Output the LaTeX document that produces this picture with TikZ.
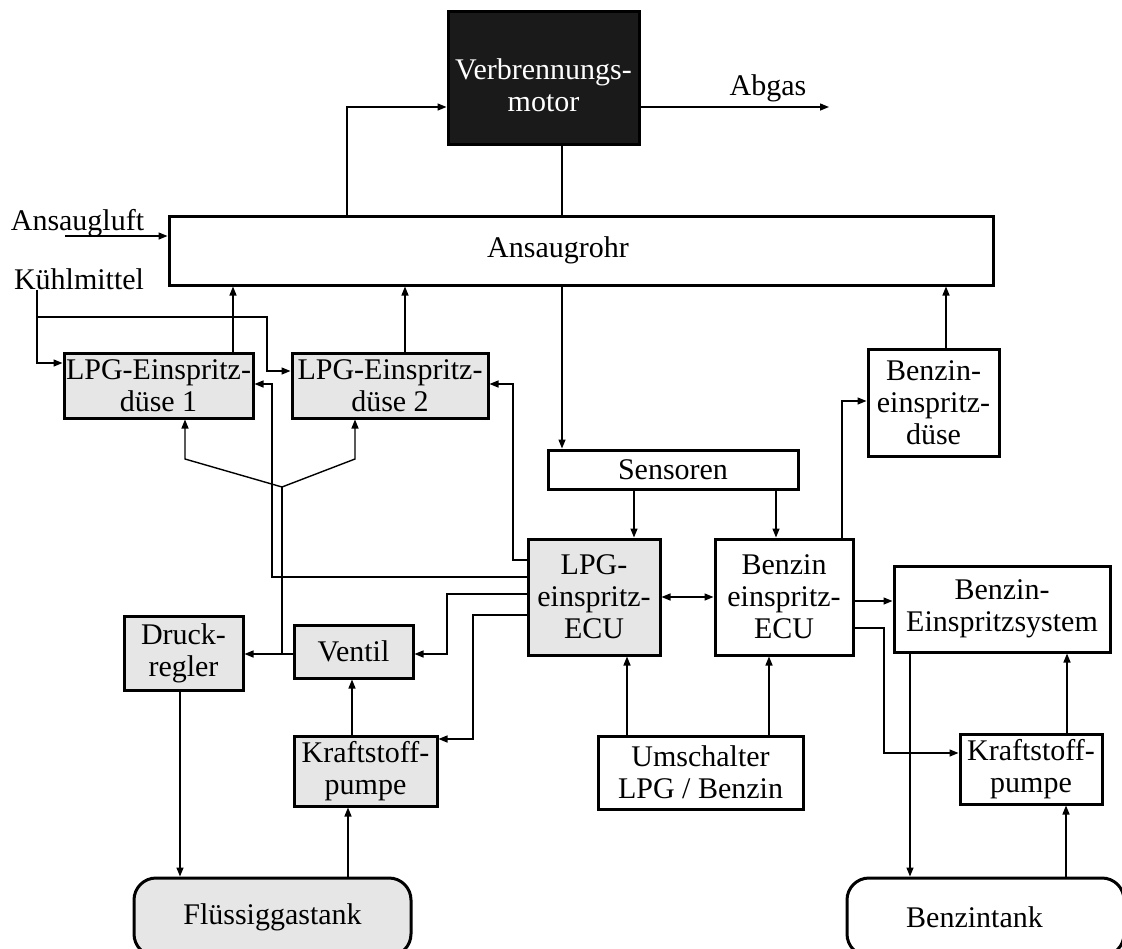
\documentclass[tikz,border=0pt]{standalone}
\usepackage{fontspec}
\setmainfont{Liberation Serif}
\usetikzlibrary{arrows.meta}
\definecolor{lpggray}{RGB}{230,230,230}
\definecolor{motorfill}{RGB}{26,26,26}

\begin{document}
\begin{tikzpicture}[x=1pt,y=-1pt,>={Triangle[length=9pt,width=7pt]},
  every node/.style={font=\fontsize{30}{32}\selectfont},
  plainbox/.style={shape=rectangle,draw=black,align=center,line width=3pt,inner sep=1pt},
  lpgbox/.style={plainbox,fill=lpggray},
  tankbox/.style={plainbox,rounded corners=22pt},
  flow/.style={->,draw=black,line width=1.4pt},
  wire/.style={draw=black,line width=1.4pt}]
\useasboundingbox (0,0) rectangle (1122,948);

\node[plainbox,fill=motorfill,text=white,minimum width=191pt,minimum height=133pt] (motor) at (543.5,77.5) {\rule{0pt}{37pt}Verbrennungs-\\motor};
\node[plainbox,minimum width=824pt,minimum height=69pt,label={[xshift=-23pt]center:Ansaugrohr}] (rohr) at (581,250.5) {};
\node[lpgbox,minimum width=189pt,minimum height=65pt] (lpg1) at (158.5,385.5) {LPG-Einspritz-\\düse 1};
\node[lpgbox,minimum width=196pt,minimum height=65pt] (lpg2) at (390,385.5) {LPG-Einspritz-\\düse 2};
\node[plainbox,minimum width=131pt,minimum height=107pt] (bduese) at (933.5,402.5) {Benzin-\\einspritz-\\düse};
\node[plainbox,minimum width=250pt,minimum height=39pt] (sensor) at (673,469.5) {Sensoren};
\node[lpgbox,minimum width=132pt,minimum height=116pt] (lecu) at (594,597) {LPG-\\einspritz-\\ECU};
\node[plainbox,minimum width=138pt,minimum height=116pt] (becu) at (784,597) {Benzin\\einspritz-\\ECU};
\node[plainbox,minimum width=216pt,minimum height=86pt] (bsys) at (1002,609) {Benzin-\\Einspritzsystem};
\node[lpgbox,minimum width=119pt,minimum height=74pt] (druck) at (183.5,653) {Druck-\\regler};
\node[lpgbox,minimum width=119pt,minimum height=53pt] (ventil) at (353.5,651.5) {Ventil};
\node[lpgbox,minimum width=143pt,minimum height=70pt] (lpump) at (365.5,771) {Kraftstoff-\\pumpe};
\node[plainbox,minimum width=205pt,minimum height=73pt] (umsch) at (700.5,772.5) {Umschalter\\LPG / Benzin};
\node[plainbox,minimum width=142pt,minimum height=70pt] (bpump) at (1031,769) {Kraftstoff-\\pumpe};
\node[tankbox,fill=lpggray,minimum width=277pt,minimum height=78pt] (ltank) at (272.5,917) {Flüssiggastank};
\node[tankbox,minimum width=277pt,minimum height=78pt,label={[xshift=-11pt]center:Benzintank}] (btank) at (985.5,917) {};

\node[anchor=base] (luft) at (77.5,230) {Ansaugluft};
\node[anchor=base] (kuehl) at (79,289) {Kühlmittel};
\node[anchor=base] (abgas) at (768,95) {Abgas};

\coordinate (luftin) at (65,236);
\coordinate (kin) at (37,290);
\coordinate (abgasout) at (829,107);
\coordinate (yj) at (282,487);

% Luft und Motor
\draw[flow] (luftin) -- (rohr.west |- luftin);
\draw[flow] (motor.east |- abgasout) -- (abgasout);
\draw[flow] (rohr.north -| 347,0) |- (motor.west |- 0,107);
\draw[wire] (motor.south -| 562,0) -- (rohr.north -| 562,0);

% Kuehlmittel
\draw[flow] (kin) |- (lpg1.west |- 0,363);
\draw[flow] (kin |- 0,317) -| (267,371) -- (lpg2.west |- 0,371);

% Einspritzduesen
\draw[flow] (lpg1.north -| 233,0) -- (rohr.south -| 233,0);
\draw[flow] (lpg2.north -| 405,0) -- (rohr.south -| 405,0);
\draw[flow] (bduese.north -| 946,0) -- (rohr.south -| 946,0);
\draw[flow] (rohr.south -| 562,0) -- (sensor.north -| 562,0);
\draw[flow] (sensor.south -| 634,0) -- (lecu.north -| 634,0);
\draw[flow] (sensor.south -| 776,0) -- (becu.north -| 776,0);

% Steuergeraete
\draw[flow,<->] (lecu.east) -- (becu.west);
\draw[flow] (becu.east |- 0,601) -- (bsys.west |- 0,601);
\draw[flow] (becu.north -| 842,0) |- (bduese.west |- 0,401);
\draw[flow] (becu.east |- 0,628) -| (884,753) -- (bpump.west |- 0,753);
\draw[flow] (umsch.north -| 627,0) -- (lecu.south -| 627,0);
\draw[flow] (umsch.north -| 769,0) -- (becu.south -| 769,0);
\draw[flow] (lecu.west |- 0,577) -| (272,384) -- (lpg1.east |- 0,384);
\draw[flow] (lecu.west |- 0,560) -| (513,384) -- (lpg2.east |- 0,384);
\draw[flow] (lecu.west |- 0,594) -| (447,654) -- (ventil.east |- 0,654);
\draw[flow] (lecu.west |- 0,615) -| (473,739) -- (lpump.east |- 0,739);

% LPG-Kreis
\draw[flow] (lpump.north -| 352,0) -- (ventil.south -| 352,0);
\draw[flow] (ventil.west |- 0,654) -- (druck.east |- 0,654);
\draw[wire] (yj |- 0,654) -- (yj);
\draw[flow] (yj) -- (185,459) -- (lpg1.south -| 185,0);
\draw[flow] (yj) -- (355,459) -- (lpg2.south -| 355,0);
\draw[flow] (druck.south -| 180,0) -- (ltank.north -| 180,0);
\draw[flow] (ltank.north -| 348,0) -- (lpump.south -| 348,0);

% Benzin-Kreis
\draw[flow] (bsys.south -| 910,0) -- (btank.north -| 910,0);
\draw[flow] (btank.north -| 1066,0) -- (bpump.south -| 1066,0);
\draw[flow] (bpump.north -| 1067,0) -- (bsys.south -| 1067,0);
\end{tikzpicture}
\end{document}
